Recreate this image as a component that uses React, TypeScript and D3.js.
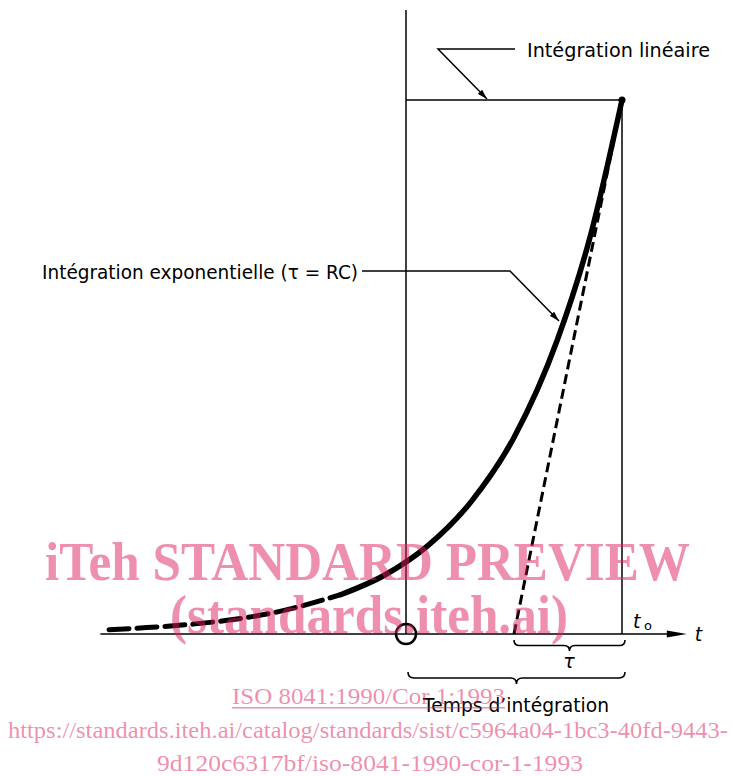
import React from "react";
import * as d3 from "d3";

// time in units of tau, t0 = 0 ; amplitude normalised to 1 at t0
const curveT = [-4.75, -4.4, -4, -3.6, -3.2, -2.6, -2.2, -1.8, -1.4, -1, -0.6, -0.3, 0];
const curveV = [0.008, 0.012, 0.018, 0.027, 0.041, 0.074, 0.11, 0.165, 0.247, 0.368, 0.55, 0.74, 1];
const dashedUntil = -2.6;
const tangentT = [-1, 0];
const tangentV = [0, 1];
const windowStart = -2; // start of integration time
const axisRange = [-4.83, 0.6];

const labelLinear = "Intégration linéaire";
const labelExp = "Intégration exponentielle (τ = RC)";
const labelTime = "Temps d’intégration";

const W = 733;
const H = 776;

const brace = (x0: number, x1: number, y: number, h: number) => {
  const m = (x0 + x1) / 2;
  const r = h / 2;
  return `M${x0},${y} Q${x0},${y + r} ${x0 + r},${y + r} L${m - r},${y + r} Q${m},${y + r} ${m},${y + h} Q${m},${y + r} ${m + r},${y + r} L${x1 - r},${y + r} Q${x1},${y + r} ${x1},${y}`;
};

const Diagram = () => {
  const x = d3.scaleLinear().domain([-2, 0]).range([406, 622]);
  const y = d3.scaleLinear().domain([0, 1]).range([634, 100]);

  const pts = curveT.map((t, i) => [t, curveV[i]] as [number, number]);
  const line = d3
    .line<[number, number]>()
    .x((d) => x(d[0]))
    .y((d) => y(d[1]))
    .curve(d3.curveMonotoneX);
  const dashedPts = pts.filter((d) => d[0] <= dashedUntil);
  const solidPts = pts.filter((d) => d[0] >= dashedUntil);
  const tangent = d3.line<number>().x((t) => x(t)).y((_, i) => y(tangentV[i]));

  const font = "'DejaVu Sans', sans-serif";
  const wm = "rgb(220,32,92)";

  return (
    <svg width={W} height={H} style={{ position: "absolute", left: 0, top: 0 }}>
      <defs>
        <marker id="arr" viewBox="0 0 10 6" refX="10" refY="3" markerWidth="10" markerHeight="6" markerUnits="userSpaceOnUse" orient="auto">
          <path d="M0,0 L10,3 L0,6 Z" fill="#000" />
        </marker>
      </defs>
      <rect width={W} height={H} fill="#fff" />

      {/* axis */}
      <line x1={x(axisRange[0])} x2={x(axisRange[1]) - 16} y1={y(0)} y2={y(0)} stroke="#000" strokeWidth={1.6} />
      <path d={`M${x(axisRange[1])},${y(0)} L${x(axisRange[1]) - 20},${y(0) - 3.5} L${x(axisRange[1]) - 20},${y(0) + 3.5} Z`} fill="#000" />
      <text x={x(axisRange[1]) + 8} y={y(0) + 7} fontFamily={font} fontStyle="italic" fontSize={19}>t</text>
      <text x={x(0) + 11} y={y(0) - 6} fontFamily={font} fontStyle="italic" fontSize={19}>t</text>
      <text x={x(0) + 22} y={y(0) - 4} fontFamily={font} fontSize={13}>o</text>

      {/* integration window */}
      <line x1={x(windowStart)} x2={x(windowStart)} y1={10} y2={y(0)} stroke="#000" strokeWidth={1.5} />
      <line x1={x(0)} x2={x(0)} y1={y(1)} y2={y(0)} stroke="#000" strokeWidth={1.5} />
      <line x1={x(windowStart)} x2={x(0)} y1={y(1)} y2={y(1)} stroke="#000" strokeWidth={1.5} />
      <circle cx={x(windowStart)} cy={y(0)} r={10} fill="none" stroke="#000" strokeWidth={2.5} />

      {/* curves */}
      <path d={tangent(tangentT) ?? ""} fill="none" stroke="#000" strokeWidth={3} strokeDasharray="10 5" />
      <path d={line(dashedPts) ?? ""} fill="none" stroke="#000" strokeWidth={5} strokeDasharray="20 8" strokeLinecap="round" />
      <path d={line(solidPts) ?? ""} fill="none" stroke="#000" strokeWidth={5.5} strokeLinecap="round" />
      <circle cx={x(0)} cy={y(1)} r={3.5} fill="#000" />

      {/* braces */}
      <path d={brace(x(-1), x(0) + 3, y(0) + 6, 11)} fill="none" stroke="#000" strokeWidth={1.6} />
      <text x={(x(-1) + x(0)) / 2 + 1} y={y(0) + 34} textAnchor="middle" fontFamily={font} fontStyle="italic" fontSize={19}>τ</text>
      <path d={brace(x(windowStart) + 2, x(0) + 3, y(0) + 38, 12)} fill="none" stroke="#000" strokeWidth={1.6} />
      <text x={423} y={712} textLength={186} lengthAdjust="spacingAndGlyphs" fontFamily={font} fontSize={19}>{labelTime}</text>

      {/* annotations */}
      <text x={527} y={57} textLength={183} lengthAdjust="spacingAndGlyphs" fontFamily={font} fontSize={20}>{labelLinear}</text>
      <polyline points="515,49 438,49 487,99" fill="none" stroke="#000" strokeWidth={1.5} markerEnd="url(#arr)" />
      <text x={42} y={279} textLength={316} lengthAdjust="spacingAndGlyphs" fontFamily={font} fontSize={20}>{labelExp}</text>
      <polyline points="362,271 510,271 559,321" fill="none" stroke="#000" strokeWidth={1.5} markerEnd="url(#arr)" />

      {/* watermark */}
      <g fill={wm} fillOpacity={0.5} fontFamily="'Liberation Serif', serif">
        <text x={45} y={580} textLength={645} lengthAdjust="spacingAndGlyphs" fontSize={54} fontWeight="bold">iTeh STANDARD PREVIEW</text>
        <text x={170} y={633} textLength={398} lengthAdjust="spacingAndGlyphs" fontSize={54} fontWeight="bold">(standards.iteh.ai)</text>
        <text x={232} y={704} textLength={273} lengthAdjust="spacingAndGlyphs" fontSize={23}>ISO 8041:1990/Cor 1:1993</text>
        <rect x={232} y={707} width={273} height={1.5} />
        <text x={8} y={738} textLength={720} lengthAdjust="spacingAndGlyphs" fontSize={23}>https://standards.iteh.ai/catalog/standards/sist/c5964a04-1bc3-40fd-9443-</text>
        <text x={157} y={771} textLength={426} lengthAdjust="spacingAndGlyphs" fontSize={23}>9d120c6317bf/iso-8041-1990-cor-1-1993</text>
      </g>
    </svg>
  );
};

export default function App() {
  return <Diagram />;
}
